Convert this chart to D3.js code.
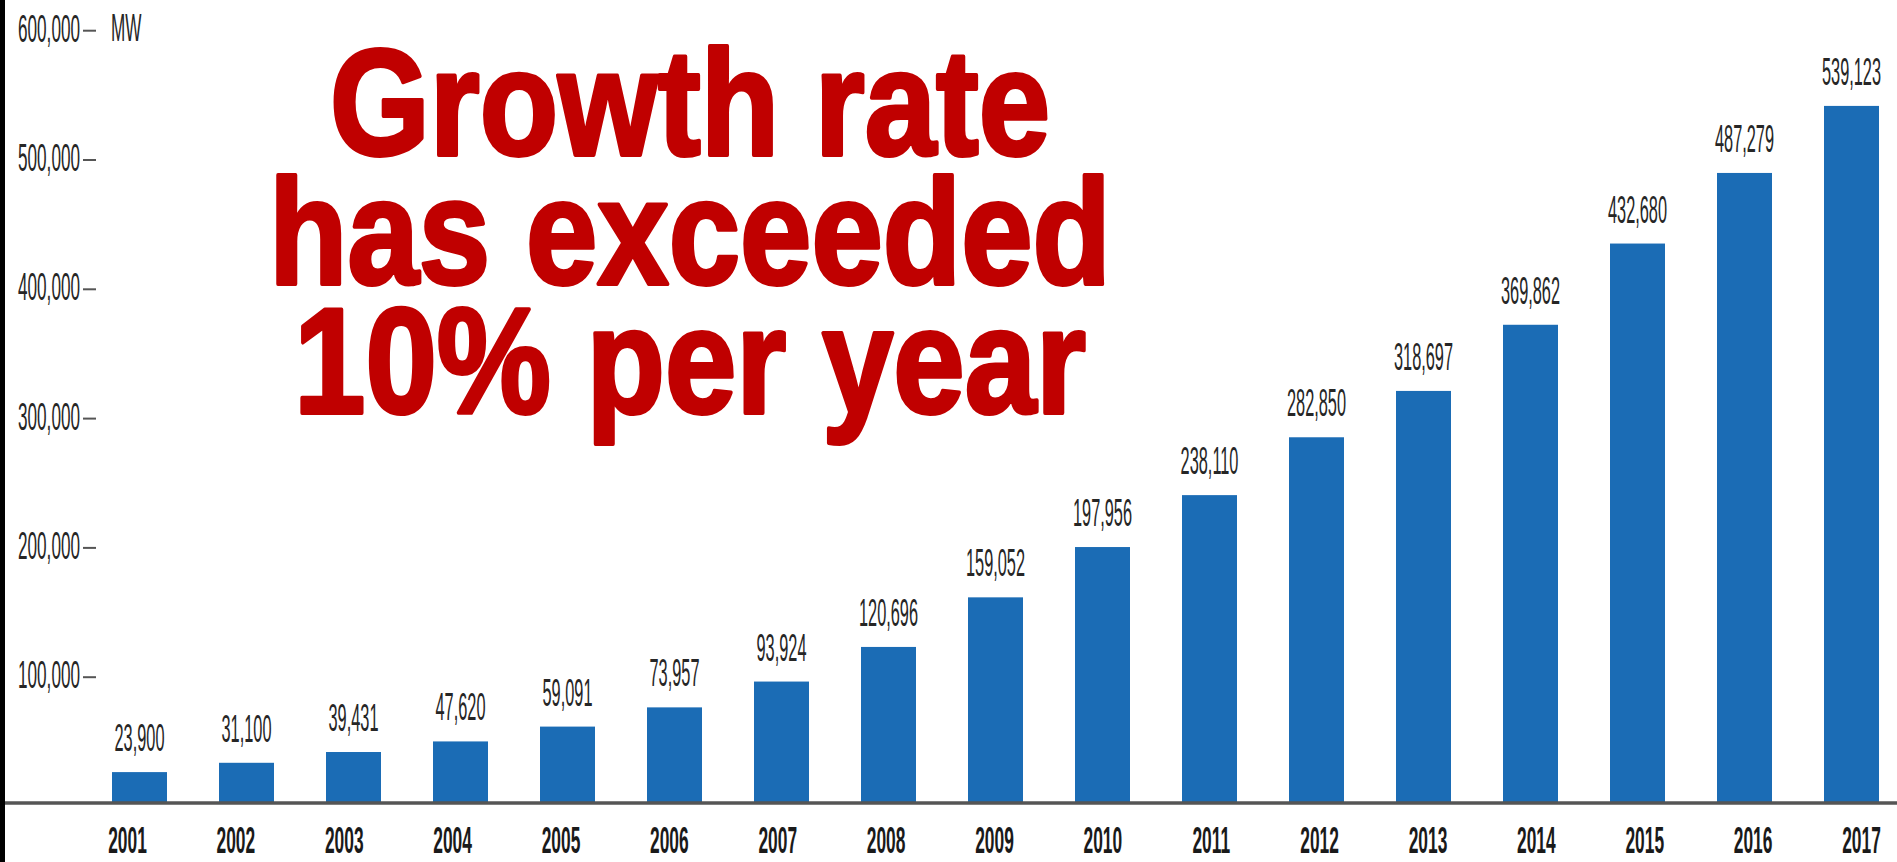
<!DOCTYPE html>
<html>
<head>
<meta charset="utf-8">
<script src="https://cdn.jsdelivr.net/npm/d3@7"></script>
<style>
  body { margin: 0; background: #fff; overflow: hidden; }
  svg { display: block; }
</style>
</head>
<body>
<svg id="chart"></svg>
<script>
// data
const years = ["2001","2002","2003","2004","2005","2006","2007","2008","2009",
               "2010","2011","2012","2013","2014","2015","2016","2017"];
const capacity = [23900, 31100, 39431, 47620, 59091, 73957, 93924, 120696, 159052,
                  197956, 238110, 282850, 318697, 369862, 432680, 487279, 539123];
const yTicks = [100000, 200000, 300000, 400000, 500000, 600000];
const unitLabel = "MW";
const titleLines = ["Growth rate", "has exceeded", "10% per year"];

const w = 1897, h = 862;
const baseY = 803;
const font = "'Liberation Sans', Arial, sans-serif";

const svg = d3.select("#chart")
  .attr("width", w)
  .attr("height", h);

// scales
const x = d3.scaleBand()
  .domain(years)
  .range([112, 1879])
  .paddingInner(0.486)
  .paddingOuter(0);

const xLabel = d3.scalePoint()
  .domain(years)
  .range([127, 1861]);

const y = d3.scaleLinear()
  .domain([0, 600000])
  .range([baseY, baseY - 6 * 129.3]);

const fmt = d3.format(",");

// bars
svg.append("g")
  .selectAll("rect")
  .data(capacity)
  .join("rect")
  .attr("x", (d, i) => x(years[i]))
  .attr("y", d => y(d))
  .attr("width", x.bandwidth())
  .attr("height", d => y(0) - y(d))
  .attr("fill", "#1b6cb5");

// value labels
svg.append("g")
  .selectAll("text")
  .data(capacity)
  .join("text")
  .attr("transform", (d, i) =>
    `translate(${x(years[i]) + x.bandwidth() / 2},${y(d) - 21}) scale(0.43,1)`)
  .attr("text-anchor", "middle")
  .style("font-family", font)
  .style("font-size", "38px")
  .attr("fill", "#262626")
  .text(d => fmt(d));

// y axis: labels + small dash
const yAxis = svg.append("g")
  .attr("transform", "translate(96,0)")
  .call(d3.axisLeft(y).tickValues(yTicks).tickSize(13).tickFormat(fmt));
yAxis.select(".domain").remove();
yAxis.selectAll(".tick line")
  .attr("transform", "translate(0,3)")
  .attr("stroke", "#555")
  .attr("stroke-width", 2);
yAxis.selectAll(".tick text")
  .attr("x", 0)
  .attr("dy", "0.36em")
  .attr("transform", "translate(-16,0) scale(0.44,1)")
  .attr("fill", "#262626")
  .style("font-family", font)
  .style("font-size", "39px");

// unit
svg.append("text")
  .attr("transform", `translate(111,${y(600000)}) scale(0.44,1)`)
  .attr("dy", "0.36em")
  .style("font-family", font)
  .style("font-size", "39px")
  .attr("fill", "#262626")
  .text(unitLabel);

// year labels
const xAxis = svg.append("g")
  .attr("transform", `translate(0,${baseY})`)
  .call(d3.axisBottom(xLabel).tickSize(0));
xAxis.select(".domain").remove();
xAxis.selectAll(".tick text")
  .attr("y", 0)
  .attr("dy", 0)
  .attr("transform", "translate(0,50) scale(0.47,1)")
  .attr("fill", "#1a1a1a")
  .style("font-family", font)
  .style("font-weight", "bold")
  .style("font-size", "37px");

// baseline
svg.append("line")
  .attr("x1", 5)
  .attr("x2", w)
  .attr("y1", y(0))
  .attr("y2", y(0))
  .attr("stroke", "#555")
  .attr("stroke-width", 3.5);

// dark strip on the left edge
svg.append("rect")
  .attr("x", 0).attr("y", 0)
  .attr("width", 5).attr("height", h)
  .attr("fill", "#000");

// big red title
svg.append("g")
  .selectAll("text")
  .data(titleLines)
  .join("text")
  .attr("transform", (d, i) => `translate(690,${155 + i * 129}) scale(0.85,1)`)
  .attr("text-anchor", "middle")
  .style("font-family", font)
  .style("font-weight", "bold")
  .style("font-size", "151px")
  .attr("fill", "#c00000")
  .attr("stroke", "#c00000")
  .attr("stroke-width", 4)
  .attr("stroke-linejoin", "round")
  .text(d => d);
</script>
</body>
</html>
